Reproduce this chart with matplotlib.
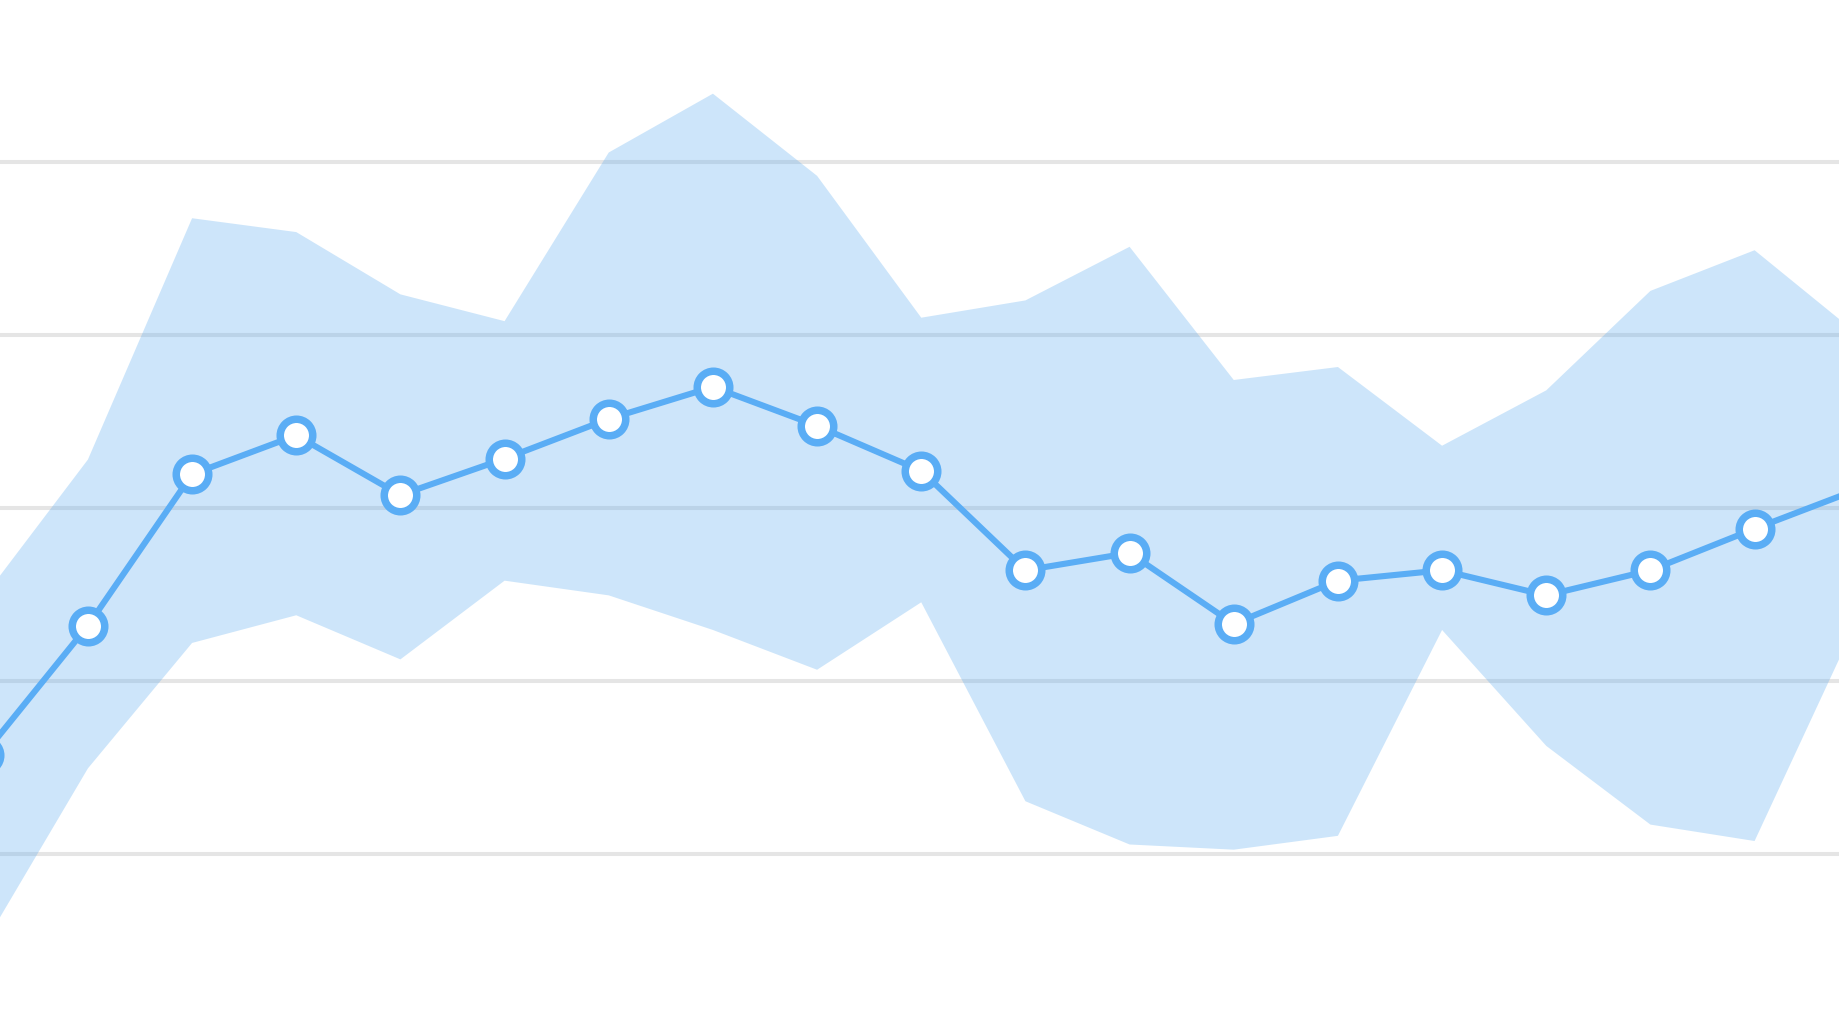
import matplotlib.pyplot as plt
import numpy as np

# one value per category
positions = np.arange(19)
mean_values = [31.5, 46.4, 63.9, 68.4, 61.5, 65.7, 70.3, 74.0, 69.5, 64.3,
               52.8, 54.8, 46.6, 51.6, 52.8, 49.9, 52.8, 57.6, 62.2]
upper_values = [49.7, 65.6, 93.5, 91.9, 84.7, 81.6, 101.1, 107.9, 98.4, 82.0,
                84.0, 90.2, 74.8, 76.3, 67.2, 73.6, 85.1, 89.8, 80.0]
lower_values = [9.5, 29.9, 44.4, 47.6, 42.5, 51.6, 49.9, 45.9, 41.3, 49.1,
                26.1, 21.1, 20.5, 22.1, 45.9, 32.5, 23.4, 21.5, 47.4]
grid_values = [20, 40, 60, 80, 100]

LINE_COLOR = "#5aadf5"
BAND_COLOR = "#5aabf0"


def main():
    fig = plt.figure(figsize=(18.4, 10.18), dpi=100)
    ax = fig.add_axes([0, 0, 1, 1])

    ax.fill_between(positions, lower_values, upper_values,
                    color=BAND_COLOR, alpha=0.3, linewidth=0, zorder=2)
    ax.plot(positions, mean_values, color=LINE_COLOR, linewidth=4.4,
            marker="o", markersize=23.4, markerfacecolor="white",
            markeredgecolor=LINE_COLOR, markeredgewidth=5.4, zorder=3)

    ax.set_xlim(0.156, 17.82)
    ax.set_ylim(1.04, 118.73)
    ax.set_yticks(grid_values)
    ax.set_xticks([])
    ax.grid(axis="y", color="#e5e5e5", linewidth=2.9, zorder=1)
    ax.set_axisbelow(True)
    ax.tick_params(left=False, labelleft=False, bottom=False, labelbottom=False)
    for spine in ax.spines.values():
        spine.set_visible(False)

    fig.savefig("out.png", dpi=100, facecolor="white")
    plt.close(fig)


if __name__ == "__main__":
    main()
